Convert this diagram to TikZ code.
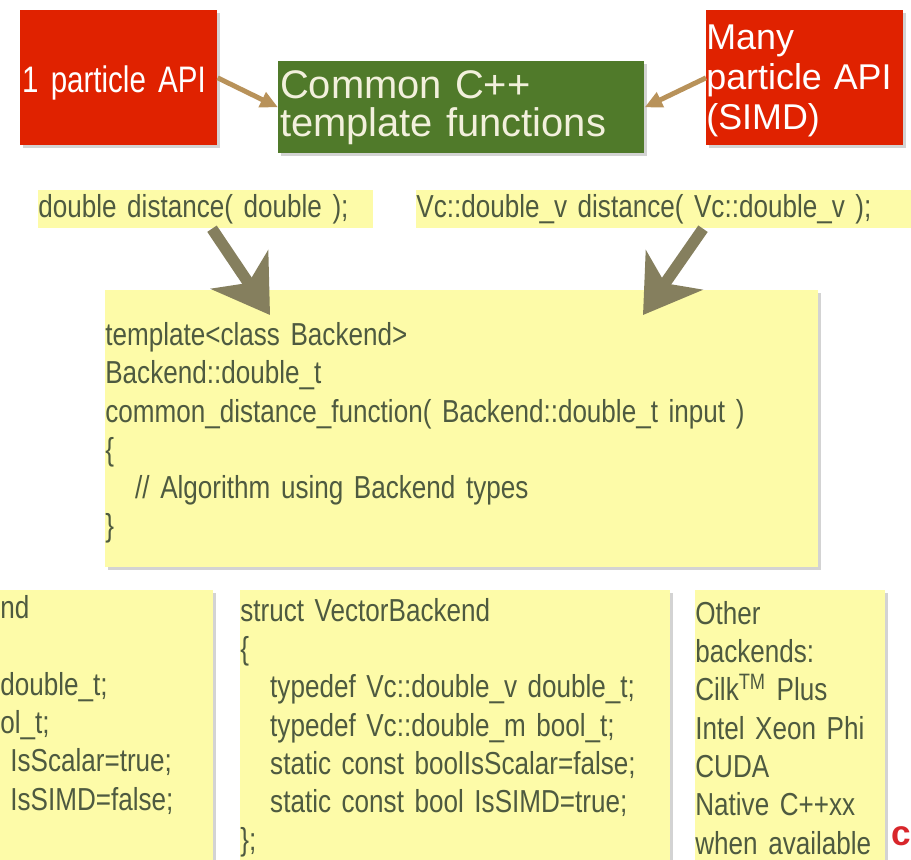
\documentclass[tikz,border=0pt]{standalone}
\usepackage{fontspec}
\setmainfont{Liberation Sans}
\newfontfamily\codefont{Liberation Sans}[FakeStretch=0.82]
\newfontfamily\apifont{Liberation Sans}[FakeStretch=0.8]
\newcommand\codesize{\codefont\fontsize{18.1}{21.8}\selectfont\spaceskip=3.8pt\relax}
\newcommand\apisize{\apifont\fontsize{21}{24}\selectfont\spaceskip=4.4pt\relax}
\usetikzlibrary{calc, shadows, arrows.meta}
\definecolor{apired}{HTML}{E02200}
\definecolor{commongreen}{HTML}{507A2A}
\definecolor{creamtext}{HTML}{F2F0DC}
\definecolor{codeyellow}{HTML}{FDFBA8}
\definecolor{codegrey}{HTML}{4E5A40}
\definecolor{linktan}{HTML}{B8925A}
\definecolor{sketchbrown}{HTML}{857F5E}
\definecolor{logored}{HTML}{D8262B}

\begin{document}
\begin{tikzpicture}[x=0.02cm, y=-0.02cm,
  panel/.style={anchor=north west, inner sep=0pt, align=left,
    drop shadow={shadow xshift=1.5pt, shadow yshift=-1.5pt, opacity=.35}},
  apibox/.style={panel, fill=apired, text=white, minimum height=2.7cm, text width=3.94cm},
  codebox/.style={panel, fill=codeyellow, text=codegrey, font=\codesize},
  sigstrip/.style={anchor=north west, inner sep=0pt, align=left, fill=codeyellow, text=codegrey,
    minimum height=0.76cm, font=\codesize},
  link/.style={linktan, line width=2.8pt, -{Triangle[length=10pt, width=9pt]}},
  sketcharrow/.style={sketchbrown, line width=6.5pt, -{Stealth[length=31pt, width=39pt, inset=9pt]}}]
\clip (0,0) rectangle (911,859);

\node[apibox, font=\apisize] (one) at (20,10) {\rule{0pt}{21pt}\hspace*{1pt}1 particle API};
\node[panel, fill=commongreen, text=creamtext, minimum height=1.84cm, text width=7.32cm,
  font=\fontsize{22.7}{21.6}\selectfont] (common) at (278,61) {\hspace*{1pt}Common C++\\\hspace*{1pt}template functions};
\node[apibox, font=\fontsize{20.4}{22.7}\selectfont] (many) at (706,10) {\rule{0pt}{17.5pt}Many\\particle API\\(SIMD)};

\node[sigstrip, text width=6.7cm] (sone) at (38,190) {double distance( double );};
\node[sigstrip, text width=9.9cm] (stwo) at (416,190) {Vc::double\_v distance( Vc::double\_v );};

\node[codebox, text width=14.26cm, minimum height=5.54cm] (tmpl) at (105,290)
  {\rule{0pt}{17.8pt}template<class Backend>\\Backend::double\_t\\common\_distance\_function( Backend::double\_t input )\\\{\\\hspace*{17pt}// Algorithm using Backend types\\\}};

\node[codebox, text width=4.26cm, minimum height=5.5cm] (scalar) at (0,590)
  {nd\\\strut\\double\_t;\\ol\_t;\\\hspace*{5.7pt}IsScalar=true;\\\hspace*{5.7pt}IsSIMD=false;\\\strut};
\node[codebox, text width=8.6cm, minimum height=5.5cm] (vector) at (240,590)
  {struct VectorBackend\\\{\\\hspace*{17pt}typedef Vc::double\_v double\_t;\\\hspace*{17pt}typedef Vc::double\_m bool\_t;\\\hspace*{17pt}static const boolIsScalar=false;\\\hspace*{17pt}static const bool IsSIMD=true;\\\};};
\node[codebox, text width=3.8cm, minimum height=5.5cm] (other) at (695,590)
  {Other\\backends:\\Cilk\textsuperscript{TM} Plus\\Intel Xeon Phi\\CUDA\\Native C++xx\\when available};
\node[text=logored, font=\bfseries\fontsize{20}{20}\selectfont, anchor=west, inner sep=0pt] (logo) at (891,836) {c};

\draw[link] (one.east) -- (common.west);
\draw[link] (many.west) -- (common.east);
\draw[sketcharrow] ($(sone.south west)+(174,0)$) -- ($(tmpl.north west)+(165,25)$);
\draw[sketcharrow] ($(stwo.south west)+(287,0)$) -- ($(tmpl.north west)+(538,25)$);
\end{tikzpicture}
\end{document}
